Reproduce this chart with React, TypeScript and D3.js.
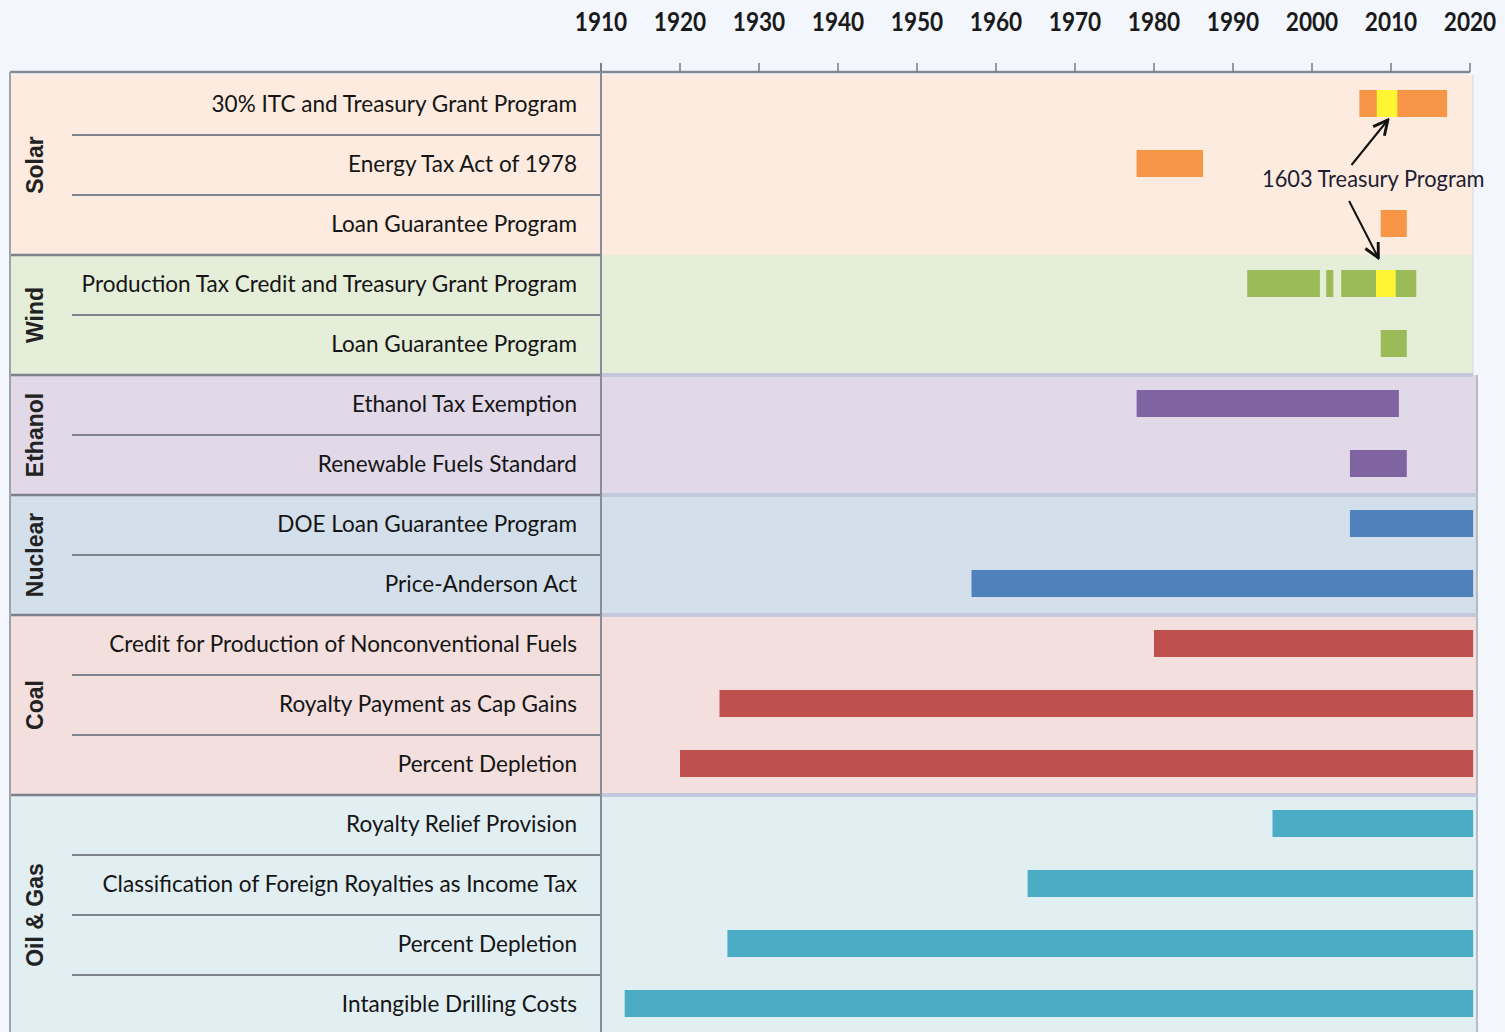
import React from 'react';
import * as d3 from 'd3';

// decade ticks across the top
const years = [1910, 1920, 1930, 1940, 1950, 1960, 1970, 1980, 1990, 2000, 2010, 2020];

const groupNames = ['Solar', 'Wind', 'Ethanol', 'Nuclear', 'Coal', 'Oil & Gas'];
const groupSizes = [3, 2, 2, 2, 3, 4];

const programNames = [
  '30% ITC and Treasury Grant Program',
  'Energy Tax Act of 1978',
  'Loan Guarantee Program',
  'Production Tax Credit and Treasury Grant Program',
  'Loan Guarantee Program',
  'Ethanol Tax Exemption',
  'Renewable Fuels Standard',
  'DOE Loan Guarantee Program',
  'Price-Anderson Act',
  'Credit for Production of Nonconventional Fuels',
  'Royalty Payment as Cap Gains',
  'Percent Depletion',
  'Royalty Relief Provision',
  'Classification of Foreign Royalties as Income Tax',
  'Percent Depletion',
  'Intangible Drilling Costs',
];

// [row, start year, end year]
const periods: [number, number, number][] = [
  [0, 2006, 2017.1],
  [1, 1977.8, 1986.2],
  [2, 2008.7, 2012],
  [3, 1991.8, 2001],
  [3, 2001.8, 2002.7],
  [3, 2003.7, 2013.2],
  [4, 2008.7, 2012],
  [5, 1977.8, 2011],
  [6, 2004.8, 2012],
  [7, 2004.8, 2020.4],
  [8, 1956.9, 2020.4],
  [9, 1980, 2020.4],
  [10, 1925, 2020.4],
  [11, 1920, 2020.4],
  [12, 1995, 2020.4],
  [13, 1964, 2020.4],
  [14, 1926, 2020.4],
  [15, 1913, 2020.4],
];

// 1603 Treasury Program windows
const treasury1603: [number, number, number][] = [
  [0, 2008.2, 2010.8],
  [3, 2008.1, 2010.6],
];

const bandFill = ['#fcebde', '#e5eed8', '#e1d8e8', '#d3dfea', '#f2dfde', '#e1eef2'];
const barFill = ['#f79646', '#9bbb59', '#8064a2', '#4f81bd', '#c0504d', '#4bacc6'];

const FONT = 'Lato, "Liberation Sans", Arial, sans-serif';

export default function App() {
  const W = 1505;
  const H = 1032;
  const left = 10;
  const labelRight = 601;
  const top = 75;
  const rowH = 60;
  const nRows = programNames.length;

  const x = d3.scaleLinear().domain([1910, 2020]).range([601, 1470]);
  const y = d3.scaleBand<number>()
    .domain(d3.range(nRows))
    .range([top, top + rowH * nRows]);

  const groupStart = groupSizes.map((_, i) => d3.sum(groupSizes.slice(0, i)));
  const groupOf = (row: number) => {
    let g = 0;
    groupStart.forEach((s, i) => { if (row >= s) g = i; });
    return g;
  };

  const barH = 27;
  const barY = (row: number) => (y(row) as number) + 15;

  const tipUp = [x(2009.6), barY(0) + barH + 3];
  const tailUp = [x(2005), 165];
  const tipDown = [x(2008.4), barY(3) - 12];
  const tailDown = [x(2004.7), 201];

  return (
    <div style={{ position: 'absolute', left: 0, top: 0 }}>
      <svg width={W} height={H} style={{ display: 'block' }}>
        <defs>
          <marker id="arr" viewBox="0 0 10 10" refX="9" refY="5" markerWidth="9" markerHeight="9" orient="auto">
            <path d="M1,1 L9,5 L1,9" fill="none" stroke="#111" strokeWidth="1.6" />
          </marker>
        </defs>
        <rect width={W} height={H} fill="#f3f6fd" />

        {/* group bands */}
        {groupNames.map((g, i) => {
          const y0 = y(groupStart[i]) as number;
          const h = groupSizes[i] * rowH;
          return (
            <g key={g}>
              <rect x={left} y={y0} width={(i < 2 ? 1473 : 1477) - left} height={h} fill={bandFill[i]} />
              <text
                transform={`translate(${43},${y0 + h / 2}) rotate(-90)`}
                textAnchor="middle"
                fontFamily='"Liberation Sans", Arial, sans-serif'
                fontWeight="bold"
                fontSize={23}
                fill="#222"
              >
                {g}
              </text>
            </g>
          );
        })}

        {/* right edge of lower bands */}
        <line x1={1477} x2={1477} y1={y(5) as number} y2={H} stroke="#a8abb5" strokeWidth={1.5} />
        <line x1={1473} x2={1473} y1={top} y2={y(5) as number} stroke="#d5d8df" strokeWidth={1} />

        {/* group boundaries */}
        {groupStart.slice(1).map((s, i) => (
          <g key={'gb' + s}>
            {i > 0 && (
              <line x1={labelRight} x2={i > 1 ? 1477 : 1473} y1={y(s) as number} y2={y(s) as number} stroke="#c4c8dc" strokeWidth={4} />
            )}
            <line x1={left} x2={labelRight} y1={y(s) as number} y2={y(s) as number} stroke="#7d828c" strokeWidth={2.5} />
          </g>
        ))}

        {/* row separators inside the label column */}
        {d3.range(nRows).filter(r => !groupStart.includes(r)).map(r => (
          <line key={'rs' + r} x1={72} x2={labelRight} y1={y(r) as number} y2={y(r) as number} stroke="#7f848c" strokeWidth={2} />
        ))}

        {/* program labels, slightly condensed */}
        {programNames.map((p, r) => (
          <text
            key={'pl' + r}
            transform={`translate(577,${(y(r) as number) + rowH / 2 - 1}) scale(0.94,1)`}
            dy="0.35em"
            textAnchor="end"
            fontFamily={FONT}
            fontSize={24}
            fill="#151515"
          >
            {p}
          </text>
        ))}

        {/* bars */}
        {periods.map(([r, s, e], i) => (
          <rect key={'b' + i} x={x(s)} y={barY(r)} width={x(e) - x(s)} height={barH} fill={barFill[groupOf(r)]} />
        ))}
        {treasury1603.map(([r, s, e], i) => (
          <rect key={'t' + i} x={x(s)} y={barY(r)} width={x(e) - x(s)} height={barH} fill="#fff533" />
        ))}

        {/* axis */}
        <line x1={left} x2={x(2020)} y1={72} y2={72} stroke="#858a92" strokeWidth={2.5} />
        <line x1={left} x2={left} y1={72} y2={H} stroke="#9ea3ab" strokeWidth={2} />
        <line x1={x(1910)} x2={x(1910)} y1={63} y2={H} stroke="#878c96" strokeWidth={2} />
        {years.map(yr => (
          <g key={yr}>
            <line x1={x(yr)} x2={x(yr)} y1={63} y2={72} stroke="#777c85" strokeWidth={1.5} />
            <text
              transform={`translate(${x(yr)},31) scale(0.87,1)`}
              textAnchor="middle"
              fontFamily={FONT}
              fontWeight="bold"
              fontSize={26}
              fill="#1a1a1a"
            >
              {yr}
            </text>
          </g>
        ))}

        {/* annotation */}
        <text transform="translate(1262,187) scale(0.95,1)" fontFamily={FONT} fontSize={23} fill="#1d1d33">1603 Treasury Program</text>
        <line x1={tailUp[0]} y1={tailUp[1]} x2={tipUp[0]} y2={tipUp[1]} stroke="#111" strokeWidth={2} markerEnd="url(#arr)" />
        <line x1={tailDown[0]} y1={tailDown[1]} x2={tipDown[0]} y2={tipDown[1]} stroke="#111" strokeWidth={2} markerEnd="url(#arr)" />
      </svg>
    </div>
  );
}
